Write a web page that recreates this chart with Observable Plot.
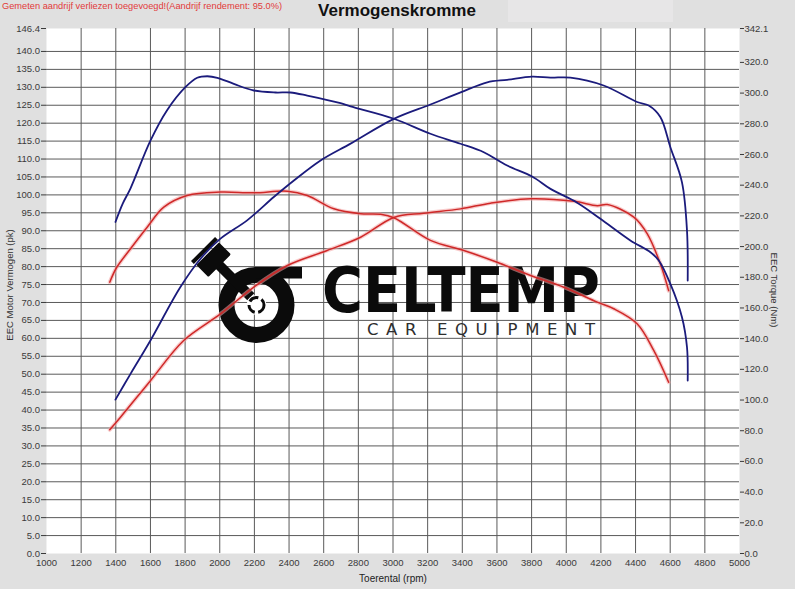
<!DOCTYPE html>
<html>
<head>
<meta charset="utf-8">
<script src="https://cdn.jsdelivr.net/npm/d3@7"></script>
<script src="https://cdn.jsdelivr.net/npm/@observablehq/plot@0.6"></script>
<style>
  html, body { margin: 0; padding: 0; background: #e0e0e0; }
  #chart { position: absolute; left: 0; top: 0; width: 795px; height: 589px; overflow: hidden; }
</style>
</head>
<body>
<div id="chart"></div>
<script>
// ---------- DATA ----------
const maxPower = 146.4;   // left axis top (kW / pk)
const maxTorque = 342.1;  // right axis top (Nm)

// Tuned power (blue)
const bluePowerRpm = [1398, 1485, 1600, 1773, 1889, 2004, 2158, 2312, 2428, 2582, 2755, 3005, 3216, 3390, 3544, 3659, 3803, 3909, 4024, 4216, 4409, 4476, 4543, 4601, 4668, 4697, 4701];
const bluePowerVal = [42.9, 50.1, 59.4, 74.3, 82.2, 87.8, 92.9, 99.4, 104.0, 109.6, 114.3, 121.2, 125.2, 128.6, 131.4, 132.1, 133.0, 132.7, 132.7, 130.5, 125.9, 124.9, 121.7, 113.3, 103.5, 90.0, 76.1];

// Tuned torque (blue)
const blueTorqueRpm = [1398, 1440, 1485, 1600, 1697, 1803, 1870, 1928, 1986, 2081, 2197, 2322, 2408, 2505, 2697, 2755, 3005, 3216, 3390, 3524, 3659, 3803, 3909, 4063, 4197, 4370, 4486, 4534, 4601, 4668, 4697, 4701];
const blueTorqueVal = [216, 228, 238, 269, 289, 304, 310, 311, 310, 306, 301.7, 300.4, 300.4, 298.4, 293.4, 291.3, 283.3, 273.5, 267.0, 261.5, 252.8, 245.7, 237.6, 228.6, 218.1, 204.0, 196.3, 190.9, 175.7, 154.0, 134.4, 112.7];

// Stock power (red)
const redPowerRpm = [1365, 1427, 1600, 1792, 2004, 2197, 2390, 2620, 2813, 3005, 3178, 3390, 3563, 3794, 4044, 4179, 4237, 4390, 4467, 4543, 4591];
const redPowerVal = [34.5, 38.0, 48.2, 59.4, 66.8, 74.3, 80.3, 84.5, 88.2, 93.7, 94.9, 96.1, 97.7, 98.9, 98.2, 97.0, 97.3, 93.8, 89.2, 80.8, 73.3];

// Stock torque (red)
const redTorqueRpm = [1365, 1404, 1485, 1581, 1677, 1812, 2004, 2197, 2390, 2505, 2659, 2813, 2928, 3005, 3216, 3409, 3601, 3794, 3986, 4179, 4274, 4409, 4505, 4591];
const redTorqueVal = [176.8, 186.2, 198.6, 212.6, 225.7, 233.3, 235.5, 235.0, 236.1, 233.3, 224.6, 221.4, 221.0, 218.8, 204.0, 197.4, 189.8, 181.2, 173.5, 163.8, 159.5, 149.7, 132.3, 111.6];

// Tick labels
const xTicks = d3.range(1000, 5001, 200);
const xGrid = d3.range(1200, 4801, 200);
const powerTicks = [...d3.range(0, 141, 5), 146.4];
const powerGrid = d3.range(5, 141, 5);
const torqueTicks = [...d3.range(0, 321, 20), 342.1];

// Texts
const titleText = "Vermogenskromme";
const noteText = "Gemeten aandrijf verliezen toegevoegd!(Aandrijf rendement: 95.0%)";
const xLabel = "Toerental (rpm)";
const yLeftLabel = "EEC Motor Vermogen (pk)";
const yRightLabel = "EEC Torque (Nm)";

// ---------- BUILD ----------
const k = maxPower / maxTorque; // torque -> left scale
const toRows = (rpm, vals, f = 1) => rpm.map((r, i) => ({rpm: r, v: vals[i] * f}));
const bluePower = toRows(bluePowerRpm, bluePowerVal);
const blueTorque = toRows(blueTorqueRpm, blueTorqueVal, k);
const redPower = toRows(redPowerRpm, redPowerVal);
const redTorque = toRows(redTorqueRpm, redTorqueVal, k);

const torqueLabel = new Map(torqueTicks.map(t => [t * k, t.toFixed(1)]));

function logo() {
  const g = d3.create("svg:g");
  const ink = "#0b0b0b";
  g.append("circle").attr("cx", 256.5).attr("cy", 305).attr("r", 30)
    .attr("fill", "none").attr("stroke", ink).attr("stroke-width", 16);
  g.append("rect").attr("x", 256).attr("y", 267).attr("width", 46).attr("height", 11.5).attr("fill", ink);
  const p = g.append("g").attr("transform", "translate(214,260) rotate(45)");
  p.append("rect").attr("x", 0).attr("y", -5).attr("width", 52).attr("height", 10).attr("fill", ink);
  p.append("rect").attr("x", -9).attr("y", -16).attr("width", 17).attr("height", 32).attr("rx", 1.5).attr("fill", ink);
  p.append("rect").attr("x", -15.5).attr("y", -17).attr("width", 4).attr("height", 34).attr("fill", ink);
  g.append("circle").attr("cx", 256.5).attr("cy", 305).attr("r", 10).attr("fill", "white");
  g.append("circle").attr("cx", 256.5).attr("cy", 305).attr("r", 7.5).attr("fill", "none")
    .attr("stroke", ink).attr("stroke-width", 3).attr("stroke-dasharray", "10 3.5");
  g.append("text").attr("x", 322).attr("y", 312).attr("text-anchor", "start").text("CELTEMP")
    .attr("font-family", "DejaVu Sans").attr("font-weight", "bold").attr("font-size", 62)
    .attr("textLength", 278).attr("lengthAdjust", "spacingAndGlyphs").attr("fill", ink);
  g.append("text").attr("x", 367).attr("y", 334.5).attr("text-anchor", "start").text("CAR EQUIPMENT")
    .attr("font-family", "DejaVu Sans").attr("font-size", 16.5)
    .attr("textLength", 228).attr("lengthAdjust", "spacing").attr("fill", "#2e2e2e");
  return g.node();
}

const blue = "#1b1b7c";
const red = "#cf2828";

const chart = Plot.plot({
  width: 795,
  height: 589,
  marginLeft: 46,
  marginRight: 56,
  marginTop: 28,
  marginBottom: 36,
  x: {domain: [1000, 5000]},
  y: {domain: [0, maxPower]},
  style: {background: "transparent", fontFamily: "'Liberation Sans', Arial, sans-serif", fontSize: "9.5px", color: "#3a3a3a", overflow: "visible"},
  marks: [
    Plot.frame({fill: "white", stroke: "none"}),
    Plot.gridX(xGrid, {stroke: "#5a5a5a", strokeOpacity: 1, strokeWidth: 1}),
    Plot.gridY(powerGrid, {stroke: "#5a5a5a", strokeOpacity: 1, strokeWidth: 1}),
    Plot.axisX({ticks: xTicks, tickSize: 0, tickPadding: 6, tickFormat: d => String(d), label: null}),
    Plot.axisY({ticks: powerTicks, tickSize: 5, tickPadding: 1.5, tickFormat: d => d.toFixed(1), label: null}),
    Plot.axisY({anchor: "right", ticks: torqueTicks.map(t => t * k), tickSize: 4, tickPadding: 1,
      tickFormat: d => torqueLabel.get(d) ?? (d / k).toFixed(1), label: null}),
    logo,
    Plot.line(redTorque, {x: "rpm", y: "v", stroke: "#f3a3a3", strokeWidth: 4, strokeOpacity: 0.55, curve: "catmull-rom"}),
    Plot.line(redPower, {x: "rpm", y: "v", stroke: "#f3a3a3", strokeWidth: 4, strokeOpacity: 0.55, curve: "catmull-rom"}),
    Plot.line(redTorque, {x: "rpm", y: "v", stroke: red, strokeWidth: 1.5, curve: "catmull-rom"}),
    Plot.line(redPower, {x: "rpm", y: "v", stroke: red, strokeWidth: 1.5, curve: "catmull-rom"}),
    Plot.line(blueTorque, {x: "rpm", y: "v", stroke: blue, strokeWidth: 1.8, curve: "catmull-rom"}),
    Plot.line(bluePower, {x: "rpm", y: "v", stroke: blue, strokeWidth: 1.8, curve: "catmull-rom"})
  ]
});

const svg = d3.select(chart);
const font = "'Liberation Sans', Arial, sans-serif";
// light box at top right
svg.insert("rect", ":first-child").attr("x", 508).attr("y", 0).attr("width", 165).attr("height", 22).attr("fill", "#e7e6e7");
svg.append("text").attr("x", 2).attr("y", 9).attr("text-anchor", "start").text(noteText)
  .attr("font-family", font).attr("font-size", 9.5)
  .attr("fill", "#e23a3a").attr("textLength", 280).attr("lengthAdjust", "spacingAndGlyphs");
svg.append("text").attr("x", 397).attr("y", 16).attr("text-anchor", "middle").text(titleText)
  .attr("font-family", font).attr("font-size", 17).attr("font-weight", "bold").attr("fill", "#111");
svg.append("text").attr("x", 393).attr("y", 582).attr("text-anchor", "middle").text(xLabel)
  .attr("font-family", font).attr("font-size", 10).attr("fill", "#222");
svg.append("text").attr("transform", "translate(13,285) rotate(-90)").attr("text-anchor", "middle").text(yLeftLabel)
  .attr("font-family", font).attr("font-size", 9.5).attr("fill", "#333");
svg.append("text").attr("transform", "translate(771,290) rotate(90)").attr("text-anchor", "middle").text(yRightLabel)
  .attr("font-family", font).attr("font-size", 9.5).attr("fill", "#333");

document.getElementById("chart").appendChild(chart);
</script>
</body>
</html>
